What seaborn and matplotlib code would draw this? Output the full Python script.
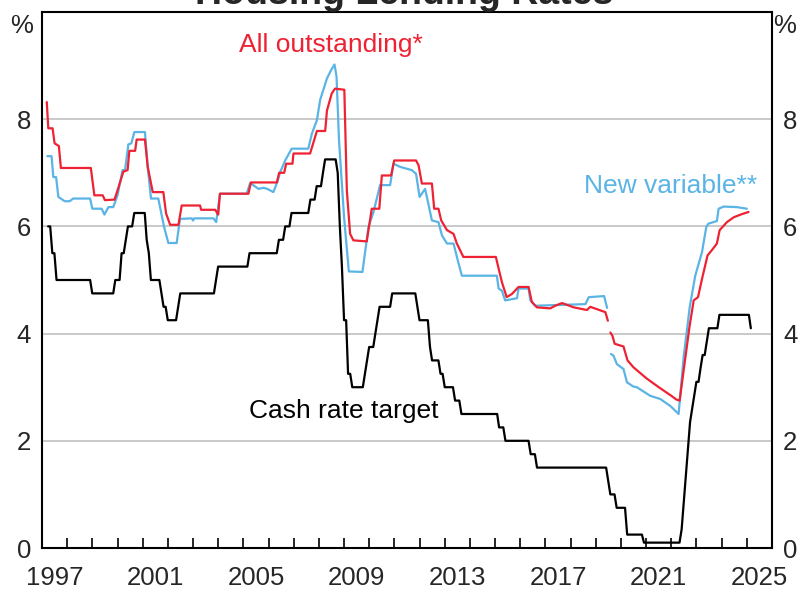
import numpy as np
import pandas as pd
import matplotlib
matplotlib.use('Agg')
import matplotlib.pyplot as plt
from matplotlib.ticker import FixedLocator, NullFormatter
import seaborn as sns

# Cash rate target: decision dates and the new level (per cent)
cash_dates = ['1997-03-01', '1997-05-23', '1997-07-30', '1998-12-02', '1999-11-03',
              '2000-02-02', '2000-04-05', '2000-05-03', '2000-08-02', '2001-02-07',
              '2001-03-07', '2001-04-04', '2001-09-05', '2001-10-03', '2001-12-05',
              '2002-05-08', '2002-06-05', '2003-11-05', '2003-12-03', '2005-03-02',
              '2006-05-03', '2006-08-02', '2006-11-08', '2007-08-08', '2007-11-07',
              '2008-02-06', '2008-03-05', '2008-09-03', '2008-10-08', '2008-11-05',
              '2008-12-03', '2009-02-04', '2009-04-08', '2009-10-07', '2009-11-04',
              '2009-12-02', '2010-03-03', '2010-04-07', '2010-05-05', '2010-11-03',
              '2011-11-02', '2011-12-07', '2012-05-02', '2012-06-06', '2012-10-03',
              '2012-12-05', '2013-05-08', '2013-08-07', '2015-02-04', '2015-05-06',
              '2016-05-04', '2016-08-03', '2019-06-05', '2019-07-03', '2019-10-02',
              '2020-03-04', '2020-03-20', '2020-11-04', '2022-05-04', '2022-06-08',
              '2022-07-06', '2022-08-03', '2022-09-07', '2022-10-05', '2022-11-02',
              '2022-12-07', '2023-02-08', '2023-03-08', '2023-05-03', '2023-06-07',
              '2023-11-08', '2025-02-19']
cash_levels = [6.0, 5.5, 5.0, 4.75, 5.0,
               5.5, 5.75, 6.0, 6.25, 5.75,
               5.5, 5.0, 4.75, 4.5, 4.25,
               4.5, 4.75, 5.0, 5.25, 5.5,
               5.75, 6.0, 6.25, 6.5, 6.75,
               7.0, 7.25, 7.0, 6.0, 5.25,
               4.25, 3.25, 3.0, 3.25, 3.5,
               3.75, 4.0, 4.25, 4.5, 4.75,
               4.5, 4.25, 3.75, 3.5, 3.25,
               3.0, 2.75, 2.5, 2.25, 2.0,
               1.75, 1.5, 1.25, 1.0, 0.75,
               0.5, 0.25, 0.1, 0.35, 0.85,
               1.35, 1.85, 2.35, 2.6, 2.85,
               3.1, 3.35, 3.6, 3.85, 4.1,
               4.35, 4.1]

# All outstanding* (red) as (year, per cent); gap in 2019
outst_year_a = [1997.19, 1997.25, 1997.42, 1997.50, 1997.67, 1997.75, 1998.94, 1999.08,
                1999.41, 1999.50, 1999.88, 2000.00, 2000.23, 2000.40, 2000.47, 2000.70,
                2000.76, 2001.09, 2001.20, 2001.40, 2001.82, 2001.93, 2002.09, 2002.42,
                2002.55, 2003.28, 2003.32, 2003.88, 2004.00, 2004.07, 2005.20, 2005.30,
                2006.33, 2006.42, 2006.62, 2006.70, 2006.95, 2006.99, 2007.65, 2007.76,
                2007.92, 2008.25, 2008.32, 2008.51, 2008.64, 2009.01, 2009.11, 2009.24,
                2009.37, 2009.90, 2010.10, 2010.40, 2010.50, 2010.87, 2010.99, 2011.86,
                2011.96, 2012.09, 2012.49, 2012.58, 2012.75, 2012.86, 2013.09, 2013.35,
                2013.48, 2013.74, 2015.03, 2015.27, 2015.46, 2015.67, 2015.93, 2016.33,
                2016.46, 2016.66, 2017.19, 2017.39, 2017.66, 2018.12, 2018.65, 2018.78,
                2019.38, 2019.48]
outst_val_a = [8.32, 7.83, 7.83, 7.55, 7.50, 7.09, 7.09, 6.58,
               6.58, 6.49, 6.50, 6.67, 7.02, 7.05, 7.41, 7.41,
               7.62, 7.62, 7.11, 6.64, 6.64, 6.24, 6.03, 6.03,
               6.39, 6.39, 6.31, 6.31, 6.22, 6.61, 6.61, 6.82,
               6.82, 7.00, 7.00, 7.17, 7.17, 7.36, 7.36, 7.53,
               7.78, 7.78, 8.16, 8.48, 8.57, 8.55, 6.67, 5.86,
               5.74, 5.72, 6.33, 6.33, 6.95, 6.95, 7.23, 7.23,
               7.14, 6.80, 6.80, 6.33, 6.33, 6.11, 5.93, 5.86,
               5.68, 5.43, 5.43, 4.96, 4.68, 4.74, 4.87, 4.87,
               4.59, 4.49, 4.47, 4.52, 4.57, 4.49, 4.44, 4.50,
               4.40, 4.24]
outst_year_b = [2019.58, 2019.66, 2019.75, 2020.10, 2020.26, 2020.50, 2021.00, 2021.50,
                2022.00, 2022.20, 2022.33, 2022.72, 2022.89, 2023.06, 2023.22, 2023.44,
                2023.60, 2023.81, 2023.92, 2024.21, 2024.48, 2024.75, 2025.07]
outst_val_b = [4.02, 3.96, 3.81, 3.76, 3.50, 3.37, 3.17, 3.00,
               2.84, 2.77, 2.75, 4.12, 4.62, 4.68, 5.02, 5.46,
               5.55, 5.68, 5.93, 6.08, 6.17, 6.22, 6.27]

# New variable** (blue) as (year, per cent); gap in 2019
newvar_year_a = [1997.21, 1997.38, 1997.45, 1997.56, 1997.65, 1997.90, 1998.10, 1998.24,
                 1998.91, 1999.00, 1999.37, 1999.48, 1999.64, 1999.83, 2000.00, 2000.20,
                 2000.30, 2000.43, 2000.55, 2000.67, 2001.09, 2001.20, 2001.33, 2001.62,
                 2001.85, 2002.02, 2002.35, 2002.48, 2002.95, 2003.00, 2003.05, 2003.81,
                 2003.92, 2004.07, 2005.13, 2005.27, 2005.45, 2005.60, 2005.80, 2005.95,
                 2006.19, 2006.35, 2006.46, 2006.66, 2006.92, 2007.58, 2007.72, 2007.92,
                 2008.05, 2008.32, 2008.49, 2008.62, 2008.70, 2008.80, 2009.00, 2009.19,
                 2009.73, 2009.97, 2010.17, 2010.43, 2010.83, 2010.96, 2011.23, 2011.69,
                 2011.86, 2012.00, 2012.22, 2012.49, 2012.75, 2012.89, 2013.09, 2013.35,
                 2013.52, 2013.68, 2015.07, 2015.14, 2015.27, 2015.40, 2015.87, 2015.93,
                 2016.33, 2016.40, 2016.60, 2018.59, 2018.72, 2019.33, 2019.45]
newvar_val_a = [7.31, 7.31, 6.92, 6.92, 6.55, 6.47, 6.47, 6.52,
                6.52, 6.33, 6.33, 6.22, 6.36, 6.36, 6.58, 7.05,
                7.05, 7.53, 7.55, 7.76, 7.76, 7.11, 6.52, 6.52,
                5.99, 5.69, 5.69, 6.14, 6.15, 6.11, 6.15, 6.15,
                6.08, 6.61, 6.61, 6.81, 6.75, 6.70, 6.72, 6.70,
                6.64, 6.83, 7.01, 7.23, 7.45, 7.45, 7.73, 7.98,
                8.36, 8.76, 8.92, 9.02, 8.80, 7.60, 6.17, 5.16,
                5.15, 5.99, 6.27, 6.77, 6.77, 7.17, 7.11, 7.05,
                6.98, 6.55, 6.70, 6.11, 6.08, 5.83, 5.68, 5.68,
                5.36, 5.08, 5.08, 4.84, 4.80, 4.62, 4.66, 4.84,
                4.84, 4.62, 4.52, 4.55, 4.68, 4.70, 4.48]
newvar_year_b = [2019.60, 2019.70, 2019.84, 2020.10, 2020.24, 2020.50, 2020.63, 2021.16,
                 2021.56, 2021.96, 2022.29, 2022.49, 2022.73, 2022.95, 2023.22, 2023.39,
                 2023.47, 2023.81, 2023.88, 2024.08, 2024.60, 2025.00]
newvar_val_b = [3.62, 3.59, 3.43, 3.34, 3.09, 3.01, 3.00, 2.84,
                2.78, 2.65, 2.50, 3.56, 4.49, 5.08, 5.52, 5.99,
                6.05, 6.10, 6.33, 6.37, 6.36, 6.33]

year_labels = ['1997', '2001', '2005', '2009', '2013', '2017', '2021', '2025']
pct_labels = ['0', '2', '4', '6', '8']

red = '#ee2233'
blue = '#5ab4e5'

# monthly cash rate from the decision dates
cash = pd.Series(cash_levels, index=pd.to_datetime(cash_dates))
months = pd.date_range('1997-03-01', '2025-02-01', freq='MS') + pd.offsets.MonthEnd(0)
cash_m = cash.asof(months)
cash_df = pd.DataFrame({'year': months.year + (months.dayofyear - 1) / 365.25,
                        'rate': cash_m.values})

outst_df = pd.DataFrame({'year': outst_year_a + outst_year_b,
                         'rate': outst_val_a + outst_val_b,
                         'part': [0] * len(outst_year_a) + [1] * len(outst_year_b)})
newvar_df = pd.DataFrame({'year': newvar_year_a + newvar_year_b,
                          'rate': newvar_val_a + newvar_val_b,
                          'part': [0] * len(newvar_year_a) + [1] * len(newvar_year_b)})

sns.set_style('white')
plt.rcParams['font.family'] = ['Liberation Sans', 'DejaVu Sans']

fig = plt.figure(figsize=(8.04, 5.94), dpi=100)
ax = fig.add_axes([42 / 804, 1 - 548 / 594, 730 / 804, 536 / 594])

sns.lineplot(data=newvar_df, x='year', y='rate', units='part', estimator=None,
             color=blue, lw=1.6, ax=ax)
sns.lineplot(data=outst_df, x='year', y='rate', units='part', estimator=None,
             color=red, lw=1.6, ax=ax)
sns.lineplot(data=cash_df, x='year', y='rate', color='black', lw=1.6, ax=ax)

ax.set_xlim(1997, 2026)
ax.set_ylim(0, 10)
ax.set_xlabel('')
ax.set_ylabel('')

# year labels centred in each year, small ticks at the year boundaries
ax.xaxis.set_major_locator(FixedLocator([int(y) + 0.5 for y in year_labels]))
ax.set_xticklabels(year_labels)
ax.xaxis.set_minor_locator(FixedLocator(np.arange(1998, 2026)))
ax.xaxis.set_minor_formatter(NullFormatter())
ax.tick_params(axis='x', which='major', length=0, pad=13, labelsize=18.5)
ax.tick_params(axis='x', which='minor', direction='in', length=7, width=1.2,
               color='black', bottom=True)

ax.set_yticks([int(v) for v in pct_labels])
ax.set_yticklabels(pct_labels)
ax.tick_params(axis='y', length=0, pad=8, labelsize=18.5,
               left=True, right=True, labelleft=True, labelright=True)
ax.grid(axis='y', color='#c0c0c0', lw=1.2)
ax.grid(axis='x', visible=False)

for side in ['left', 'right', 'top', 'bottom']:
    ax.spines[side].set_visible(True)
    ax.spines[side].set_color('black')
    ax.spines[side].set_linewidth(1.5)

ax.text(2008.48, 9.26, 'All outstanding*', color=red, fontsize=19, ha='center', va='baseline')
ax.text(2021.97, 6.62, 'New variable**', color=blue, fontsize=19, ha='center', va='baseline')
ax.text(2008.98, 2.43, 'Cash rate target', color='black', fontsize=19, ha='center', va='baseline')

fig.text(22 / 804, 1 - 26 / 594, '%', fontsize=18.5, ha='center', va='center')
fig.text(785 / 804, 1 - 26 / 594, '%', fontsize=18.5, ha='center', va='center')
fig.text(404 / 804, 1 - 3.5 / 594, 'Housing Lending Rates', fontsize=27,
         fontweight='bold', ha='center', va='baseline')

fig.savefig('out.png', dpi=100)
